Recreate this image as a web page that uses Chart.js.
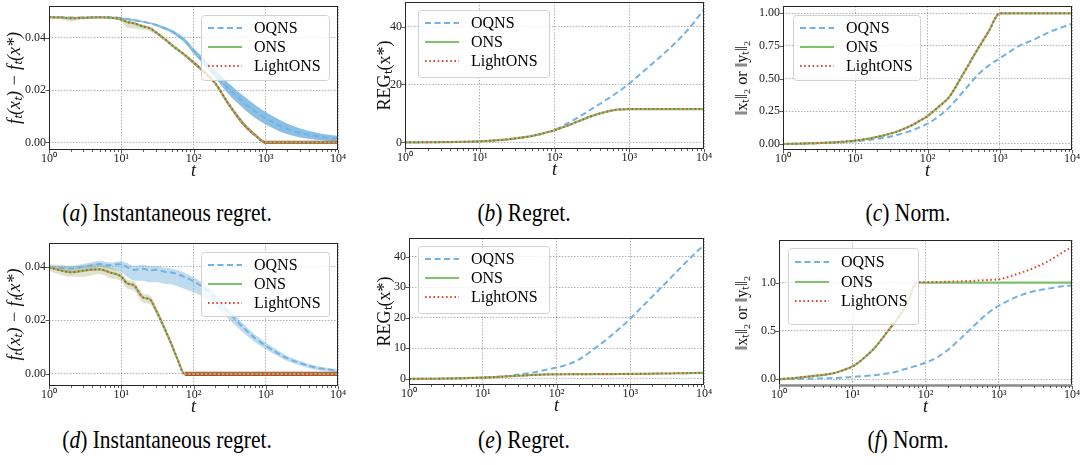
<!DOCTYPE html>
<html>
<head>
<meta charset="utf-8">
<script src="https://cdn.jsdelivr.net/npm/chart.js@4"></script>
<style>
body { margin: 0; background: #fff; width: 1082px; height: 465px; overflow: hidden; position: relative; font-family: "Liberation Serif", serif; }
canvas { position: absolute; }
.cap { position: absolute; width: 400px; font-size: 25px; line-height: 25px; text-align: center; color: #000; white-space: nowrap; transform: scaleX(0.86); }
</style>
</head>
<body>
<canvas id="pa"></canvas>
<canvas id="pb"></canvas>
<canvas id="pc"></canvas>
<canvas id="pd"></canvas>
<canvas id="pe"></canvas>
<canvas id="pf"></canvas>
<div class="cap" style="left:-33px;top:200px">(<i>a</i>) Instantaneous regret.</div>
<div class="cap" style="left:324px;top:200px">(<i>b</i>) Regret.</div>
<div class="cap" style="left:708px;top:200px">(<i>c</i>) Norm.</div>
<div class="cap" style="left:-33px;top:427px">(<i>d</i>) Instantaneous regret.</div>
<div class="cap" style="left:324px;top:427px">(<i>e</i>) Regret.</div>
<div class="cap" style="left:708px;top:427px">(<i>f</i>) Norm.</div>
<script>
// time steps (log axis)
const T = [1, 1.5, 2, 3, 4, 5, 7, 10, 12, 15, 20, 25, 30, 40, 50, 60, 75, 100, 150, 200, 300, 500, 700, 1000, 1500, 2000, 3000, 5000, 7000, 10000];
const X_MAJOR = [1, 10, 100, 1000, 10000];
const X_LABELS = ['10⁰', '10¹', '10²', '10³', '10⁴'];
const NAMES = ['OQNS', 'ONS', 'LightONS'];

// (a) instantaneous regret
const A_OQNS = [0.0478, 0.0478, 0.0477, 0.0477, 0.0478, 0.0478, 0.0478, 0.0475, 0.0471, 0.0467, 0.0461, 0.0455, 0.0449, 0.0436, 0.0424, 0.0410, 0.0390, 0.0350, 0.0300, 0.0262, 0.0208, 0.0152, 0.0120, 0.0092, 0.0066, 0.0051, 0.0036, 0.0024, 0.0018, 0.0015];
const A_OQNS_HI = [0.0480, 0.0480, 0.0479, 0.0479, 0.0480, 0.0480, 0.0480, 0.0478, 0.0474, 0.0470, 0.0464, 0.0458, 0.0453, 0.0441, 0.0430, 0.0417, 0.0398, 0.0360, 0.0313, 0.0278, 0.0229, 0.0176, 0.0145, 0.0116, 0.0088, 0.0071, 0.0053, 0.0038, 0.0030, 0.0025];
const A_OQNS_LO = [0.0476, 0.0476, 0.0475, 0.0475, 0.0476, 0.0476, 0.0476, 0.0472, 0.0468, 0.0464, 0.0458, 0.0452, 0.0445, 0.0431, 0.0418, 0.0403, 0.0382, 0.0340, 0.0287, 0.0246, 0.0187, 0.0128, 0.0095, 0.0068, 0.0044, 0.0031, 0.0019, 0.0010, 0.0006, 0.0005];
const A_ONS = [0.0478, 0.0477, 0.0474, 0.0476, 0.0477, 0.0478, 0.0476, 0.0470, 0.0460, 0.0455, 0.0443, 0.0436, 0.0421, 0.0395, 0.0372, 0.0355, 0.0335, 0.0305, 0.0262, 0.0226, 0.0150, 0.0068, 0.0030, 0.0000, 0, 0, 0, 0, 0, 0];
const A_LIGHT = [0.0478, 0.0477, 0.0474, 0.0476, 0.0477, 0.0478, 0.0476, 0.0470, 0.0460, 0.0455, 0.0443, 0.0436, 0.0421, 0.0395, 0.0372, 0.0355, 0.0335, 0.0305, 0.0262, 0.0226, 0.0150, 0.0068, 0.0030, 0.0000, 0, 0, 0, 0, 0, 0];
const A_RUN_HI = [0.0482, 0.0482, 0.0480, 0.0481, 0.0482, 0.0483, 0.0481, 0.0476, 0.0466, 0.0461, 0.0449, 0.0442, 0.0427, 0.0401, 0.0378, 0.0361, 0.0341, null, null, null, null, null, null, null, null, null, null, null, null, null];
const A_RUN_LO = [0.0474, 0.0470, 0.0462, 0.0470, 0.0471, 0.0472, 0.0470, 0.0462, 0.0440, 0.0435, 0.0430, 0.0425, 0.0412, 0.0386, 0.0364, 0.0347, 0.0327, null, null, null, null, null, null, null, null, null, null, null, null, null];
const A_RED_HI = [null, null, null, null, null, null, null, null, null, null, null, null, null, null, null, null, 0.0340, 0.0311, 0.0268, 0.0232, 0.0157, 0.0075, 0.0036, 0.0006, 0.0006, 0.0006, 0.0006, 0.0006, 0.0006, 0.0006];
const A_RED_LO = [null, null, null, null, null, null, null, null, null, null, null, null, null, null, null, null, 0.0330, 0.0299, 0.0256, 0.0220, 0.0143, 0.0061, 0.0024, -0.0006, -0.0006, -0.0006, -0.0006, -0.0006, -0.0006, -0.0006];

// (b) regret
const B_OQNS = [0, 0.02, 0.04, 0.08, 0.11, 0.14, 0.2, 0.35, 0.45, 0.6, 0.85, 1.1, 1.35, 1.8, 2.2, 2.65, 3.3, 4.3, 6.6, 8.4, 11.2, 14.8, 17.3, 20.3, 24.2, 27.0, 31.0, 36.5, 40.8, 46.0];
const B_ONS = [0, 0.02, 0.04, 0.08, 0.11, 0.14, 0.2, 0.35, 0.45, 0.6, 0.85, 1.1, 1.35, 1.8, 2.2, 2.65, 3.3, 4.2, 5.8, 7.1, 8.9, 10.6, 11.3, 11.5, 11.5, 11.5, 11.5, 11.5, 11.5, 11.5];
const B_LIGHT = [0, 0.02, 0.04, 0.08, 0.11, 0.14, 0.2, 0.35, 0.45, 0.6, 0.85, 1.1, 1.35, 1.8, 2.2, 2.65, 3.3, 4.2, 5.8, 7.1, 8.9, 10.6, 11.3, 11.5, 11.5, 11.5, 11.5, 11.5, 11.5, 11.5];

// (c) norm
const C_OQNS = [0, 0.002, 0.003, 0.006, 0.008, 0.01, 0.014, 0.02, 0.024, 0.03, 0.04, 0.048, 0.056, 0.072, 0.088, 0.102, 0.124, 0.155, 0.22, 0.28, 0.39, 0.53, 0.60, 0.655, 0.72, 0.76, 0.80, 0.86, 0.89, 0.92];
const C_ONS = [0, 0.002, 0.004, 0.007, 0.01, 0.012, 0.018, 0.026, 0.032, 0.04, 0.054, 0.066, 0.078, 0.1, 0.122, 0.142, 0.172, 0.214, 0.295, 0.36, 0.52, 0.73, 0.86, 1.0, 1.0, 1.0, 1.0, 1.0, 1.0, 1.0];
const C_LIGHT = [0, 0.002, 0.004, 0.007, 0.01, 0.012, 0.018, 0.026, 0.032, 0.04, 0.054, 0.066, 0.078, 0.1, 0.122, 0.142, 0.172, 0.214, 0.295, 0.36, 0.52, 0.73, 0.86, 1.0, 1.0, 1.0, 1.0, 1.0, 1.0, 1.0];

// (d) instantaneous regret
const D_OQNS = [0.0398, 0.0395, 0.0393, 0.0400, 0.0405, 0.0410, 0.0405, 0.0410, 0.0398, 0.0388, 0.0392, 0.0386, 0.0388, 0.0381, 0.0378, 0.0372, 0.0362, 0.0345, 0.0315, 0.0285, 0.0232, 0.0170, 0.0135, 0.0105, 0.0076, 0.0058, 0.0040, 0.0023, 0.0017, 0.0012];
const D_OQNS_HI = [0.0403, 0.0403, 0.0403, 0.0410, 0.0417, 0.0422, 0.0415, 0.0420, 0.0413, 0.0403, 0.0407, 0.0401, 0.0403, 0.0396, 0.0393, 0.0387, 0.0377, 0.0360, 0.0330, 0.0300, 0.0247, 0.0184, 0.0148, 0.0117, 0.0086, 0.0067, 0.0048, 0.0030, 0.0023, 0.0018];
const D_OQNS_LO = [0.0393, 0.0387, 0.0383, 0.0390, 0.0393, 0.0398, 0.0390, 0.0380, 0.0363, 0.0348, 0.0347, 0.0341, 0.0343, 0.0336, 0.0333, 0.0327, 0.0317, 0.0305, 0.0280, 0.0255, 0.0207, 0.0152, 0.0120, 0.0092, 0.0065, 0.0048, 0.0031, 0.0015, 0.0010, 0.0006];
const D_ONS = [0.0397, 0.0385, 0.0379, 0.0385, 0.0389, 0.0390, 0.0378, 0.0363, 0.0338, 0.0330, 0.0285, 0.0278, 0.0240, 0.0168, 0.0108, 0.0055, 0.0000, 0, 0, 0, 0, 0, 0, 0, 0, 0, 0, 0, 0, 0];
const D_LIGHT = [0.0397, 0.0385, 0.0379, 0.0385, 0.0389, 0.0390, 0.0378, 0.0363, 0.0338, 0.0330, 0.0285, 0.0278, 0.0240, 0.0168, 0.0108, 0.0055, 0.0000, 0, 0, 0, 0, 0, 0, 0, 0, 0, 0, 0, 0, 0];
const D_RUN_HI = [0.0410, 0.0405, 0.0400, 0.0405, 0.0410, 0.0412, 0.0398, 0.0378, 0.0352, 0.0345, 0.0300, 0.0292, 0.0253, 0.0180, 0.0118, 0.0063, 0.0006, null, null, null, null, null, null, null, null, null, null, null, null, null];
const D_RUN_LO = [0.0385, 0.0368, 0.0362, 0.0362, 0.0368, 0.0372, 0.0358, 0.0345, 0.0318, 0.0310, 0.0265, 0.0260, 0.0225, 0.0155, 0.0098, 0.0046, -0.0006, null, null, null, null, null, null, null, null, null, null, null, null, null];
const D_RED_HI = [null, null, null, null, null, null, null, null, null, null, null, null, null, null, null, null, 0.0008, 0.0008, 0.0008, 0.0008, 0.0008, 0.0008, 0.0008, 0.0008, 0.0008, 0.0008, 0.0008, 0.0008, 0.0008, 0.0008];
const D_RED_LO = [null, null, null, null, null, null, null, null, null, null, null, null, null, null, null, null, -0.0008, -0.0008, -0.0008, -0.0008, -0.0008, -0.0008, -0.0008, -0.0008, -0.0008, -0.0008, -0.0008, -0.0008, -0.0008, -0.0008];

// (e) regret
const E_OQNS = [0, 0.03, 0.05, 0.1, 0.15, 0.2, 0.3, 0.4, 0.5, 0.65, 0.9, 1.15, 1.4, 1.8, 2.2, 2.55, 3.1, 3.7, 4.9, 6.3, 9.2, 13.3, 16.3, 19.7, 24.0, 27.0, 31.3, 36.8, 40.3, 43.8];
const E_ONS = [0, 0.03, 0.05, 0.1, 0.15, 0.2, 0.3, 0.4, 0.48, 0.6, 0.78, 0.92, 1.02, 1.18, 1.3, 1.38, 1.45, 1.5, 1.52, 1.54, 1.56, 1.58, 1.6, 1.62, 1.66, 1.7, 1.76, 1.85, 1.92, 2.0];
const E_LIGHT = [0, 0.03, 0.05, 0.1, 0.15, 0.2, 0.3, 0.4, 0.48, 0.6, 0.78, 0.92, 1.02, 1.18, 1.3, 1.38, 1.45, 1.5, 1.52, 1.54, 1.56, 1.58, 1.6, 1.62, 1.66, 1.7, 1.76, 1.85, 1.92, 2.0];

// (f) norm
const F_OQNS = [0, 0.002, 0.004, 0.007, 0.009, 0.011, 0.016, 0.024, 0.028, 0.033, 0.042, 0.05, 0.06, 0.078, 0.1, 0.118, 0.14, 0.17, 0.235, 0.30, 0.42, 0.58, 0.68, 0.76, 0.83, 0.87, 0.91, 0.94, 0.96, 0.97];
const F_ONS = [0, 0.01, 0.02, 0.034, 0.045, 0.055, 0.085, 0.131, 0.17, 0.23, 0.32, 0.41, 0.49, 0.61, 0.72, 0.84, 1.0, 1.0, 1.0, 1.0, 1.0, 1.0, 1.0, 1.0, 1.0, 1.0, 1.0, 1.0, 1.0, 1.0];
const F_LIGHT = [0, 0.01, 0.02, 0.034, 0.045, 0.055, 0.085, 0.131, 0.17, 0.23, 0.32, 0.41, 0.49, 0.61, 0.72, 0.84, 1.0, 1.003, 1.006, 1.008, 1.012, 1.02, 1.027, 1.034, 1.07, 1.10, 1.15, 1.23, 1.30, 1.37];

const Y_TICKS_A = [0, 0.02, 0.04];
const Y_TICKS_B = [0, 20, 40];
const Y_TICKS_C = [0, 0.25, 0.5, 0.75, 1];
const Y_TICKS_D = [0, 0.02, 0.04];
const Y_TICKS_E = [0, 10, 20, 30, 40];
const Y_TICKS_F = [0, 0.5, 1];

const BLUE = '#72b3df';
const GREEN = '#7cc36c';
const RED = '#e0482f';
const FONT = 'Liberation Serif';

// minor ticks of the log axis
const xTickValues = [];
for (const d of [1, 10, 100, 1000]) {
  for (let m = 1; m < 10; m++) xTickValues.push(m * d);
}
xTickValues.push(10000);

function oqns(data) {
  return { data, legendRow: 0, borderColor: BLUE, borderWidth: 2, borderDash: [6, 3.5], order: 3 };
}
function ons(data) {
  return { data, legendRow: 1, borderColor: GREEN, borderWidth: 2.2, order: 2 };
}
function light(data) {
  return { data, legendRow: 2, borderColor: RED, borderWidth: 2, borderDash: [1.6, 2.6], order: 1 };
}
function band(hi, lo, color, order) {
  return [
    { data: hi, borderWidth: 0, borderColor: 'rgba(0,0,0,0)', backgroundColor: color, fill: '+1', order },
    { data: lo, borderWidth: 0, borderColor: 'rgba(0,0,0,0)', fill: false, order }
  ];
}

const framePlugin = {
  id: 'frame',
  afterDatasetsDraw(chart, args, opts) {
    const { ctx, chartArea: a } = chart;
    ctx.save();
    ctx.strokeStyle = '#262626';
    ctx.lineWidth = 1;
    ctx.strokeRect(a.left + 0.5, a.top + 0.5, a.right - a.left - 1, a.bottom - a.top - 1);
    if (opts.bottom) {
      ctx.strokeStyle = opts.bottom;
      ctx.lineWidth = 2.5;
      ctx.beginPath();
      ctx.moveTo(a.left, a.bottom - 0.5);
      ctx.lineTo(a.right, a.bottom - 0.5);
      ctx.stroke();
    }
    ctx.strokeStyle = '#333';
    ctx.lineWidth = 0.8;
    ctx.beginPath();
    chart.scales.x.ticks.forEach(t => {
      const px = Math.round(chart.scales.x.getPixelForValue(t.value)) + 0.5;
      const len = X_MAJOR.includes(t.value) ? 3.5 : 2;
      ctx.moveTo(px, a.bottom);
      ctx.lineTo(px, a.bottom + len);
    });
    chart.scales.y.ticks.forEach(t => {
      const py = Math.round(chart.scales.y.getPixelForValue(t.value)) + 0.5;
      ctx.moveTo(a.left - 3.5, py);
      ctx.lineTo(a.left, py);
    });
    ctx.stroke();
    ctx.restore();
  }
};

const legendPlugin = {
  id: 'inLegend',
  afterDraw(chart, args, opts) {
    const { ctx, chartArea: a } = chart;
    const x0 = a.left + opts.x, y0 = a.top + opts.y;
    ctx.save();
    ctx.beginPath();
    ctx.roundRect(x0 + 0.5, y0 + 0.5, opts.w, opts.h, 3);
    ctx.fillStyle = 'rgba(255,255,255,0.8)';
    ctx.fill();
    ctx.strokeStyle = '#d2d2d2';
    ctx.lineWidth = 1;
    ctx.stroke();
    chart.data.datasets.filter(d => d.legendRow !== undefined).forEach(d => {
      const y = y0 + opts.rows[d.legendRow];
      ctx.strokeStyle = d.borderColor;
      ctx.lineWidth = d.borderWidth;
      ctx.setLineDash(d.borderDash || []);
      ctx.beginPath();
      ctx.moveTo(x0 + 7, y);
      ctx.lineTo(x0 + 41, y);
      ctx.stroke();
      ctx.setLineDash([]);
      ctx.fillStyle = '#000';
      ctx.font = '16px "' + FONT + '"';
      ctx.textBaseline = 'middle';
      ctx.fillText(NAMES[d.legendRow], x0 + 53, y + 1);
    });
    ctx.restore();
  }
};

function makePanel(p) {
  const canvas = document.getElementById(p.id);
  const left = p.col, top = p.row;
  const [pl, pt, pr, pb] = p.plot;
  canvas.width = pr + 8 - left;
  canvas.height = pb + 32 - top;
  canvas.style.left = left + 'px';
  canvas.style.top = top + 'px';
  const yW = pl - left;

  new Chart(canvas, {
    type: 'line',
    data: { labels: T, datasets: p.datasets },
    options: {
      responsive: false,
      animation: false,
      devicePixelRatio: 1,
      layout: { padding: { left: 0, top: pt - top, right: 8, bottom: 0 } },
      elements: { point: { radius: 0 }, line: { cubicInterpolationMode: 'monotone' } },
      plugins: {
        legend: { display: false },
        tooltip: { enabled: false },
        frame: { bottom: p.bottomSpine },
        inLegend: p.legend
      },
      scales: {
        x: {
          type: 'logarithmic', min: 1, max: 10000,
          afterBuildTicks: s => { s.ticks = xTickValues.map(v => ({ value: v })); },
          afterFit: s => { s.height = 32; s.paddingLeft = 0; s.paddingRight = 0; },
          ticks: {
            autoSkip: false, maxRotation: 0, minRotation: 0, padding: 2, color: '#222',
            font: { family: FONT, size: 12 },
            callback: v => { const k = X_MAJOR.indexOf(v); return k < 0 ? '' : X_LABELS[k]; }
          },
          grid: {
            drawTicks: false, lineWidth: 0.8,
            color: c => (c.tick && X_MAJOR.includes(c.tick.value)) ? '#a0a0a0' : 'rgba(0,0,0,0)'
          },
          border: { display: false, dash: [1.5, 1.5] },
          title: { display: true, text: 't', color: '#111', font: { family: FONT, size: 18, style: 'italic' }, padding: { top: 0, bottom: 0 } }
        },
        y: {
          min: p.yMin, max: p.yMax,
          afterBuildTicks: s => { s.ticks = p.yTicks.map(v => ({ value: v })); },
          afterFit: s => { s.width = yW; s.paddingTop = 0; s.paddingBottom = 0; },
          ticks: { padding: 3, color: '#222', font: { family: FONT, size: 12 }, callback: v => v.toFixed(p.dec) },
          grid: { drawTicks: false, lineWidth: 0.8, color: '#a0a0a0' },
          border: { display: false, dash: [1.5, 1.5] },
          title: { display: true, text: p.yTitle, color: '#111', font: { family: FONT, size: p.titleSize, style: p.italic ? 'italic' : 'normal' }, padding: { top: p.titlePad, bottom: 0 } }
        }
      }
    },
    plugins: [framePlugin, legendPlugin]
  });
}

const ROWS = [13, 32, 51];

makePanel({
  id: 'pa', col: 0, row: 0, plot: [49, 6, 338, 150],
  yMin: -0.0029, yMax: 0.0521, yTicks: Y_TICKS_A, dec: 2,
  yTitle: 'fₜ(xₜ) − fₜ(x*)', italic: true, titleSize: 18, titlePad: 4,
  legend: { x: 152, y: 9, w: 128, h: 65, rows: ROWS },
  datasets: [light(A_LIGHT), ons(A_ONS), oqns(A_OQNS),
    ...band(A_RED_HI, A_RED_LO, 'rgba(200,55,30,0.95)', 5),
    ...band(A_RUN_HI, A_RUN_LO, 'rgba(150,160,90,0.3)', 6),
    ...band(A_OQNS_HI, A_OQNS_LO, 'rgba(110,175,222,0.8)', 7)]
});

makePanel({
  id: 'pb', col: 360, row: 0, plot: [405, 2, 704, 149],
  yMin: -2.3, yMax: 48.5, yTicks: Y_TICKS_B, dec: 0,
  yTitle: 'REGₜ(x*)', italic: false, titleSize: 18, titlePad: 14,
  legend: { x: 13, y: 8, w: 131, h: 67, rows: ROWS },
  datasets: [light(B_LIGHT), ons(B_ONS), oqns(B_OQNS)]
});

makePanel({
  id: 'pc', col: 720, row: 0, plot: [783, 6, 1072, 150],
  yMin: -0.046, yMax: 1.056, yTicks: Y_TICKS_C, dec: 2,
  yTitle: '‖xₜ‖₂ or ‖yₜ‖₂', italic: false, titleSize: 16, titlePad: 13,
  legend: { x: 10, y: 9, w: 127, h: 65, rows: ROWS },
  datasets: [light(C_LIGHT), ons(C_ONS), oqns(C_OQNS)]
});

makePanel({
  id: 'pd', col: 0, row: 230, plot: [49, 243, 338, 386],
  yMin: -0.0045, yMax: 0.0488, yTicks: Y_TICKS_D, dec: 2,
  yTitle: 'fₜ(xₜ) − fₜ(x*)', italic: true, titleSize: 18, titlePad: 4,
  legend: { x: 152, y: 9, w: 128, h: 64, rows: ROWS },
  datasets: [light(D_LIGHT), ons(D_ONS), oqns(D_OQNS),
    ...band(D_RED_HI, D_RED_LO, 'rgba(200,55,30,0.95)', 5),
    ...band(D_RUN_HI, D_RUN_LO, 'rgba(150,160,90,0.3)', 6),
    ...band(D_OQNS_HI, D_OQNS_LO, 'rgba(110,175,222,0.45)', 7)]
});

makePanel({
  id: 'pe', col: 360, row: 230, plot: [409, 238, 704, 385],
  yMin: -2.0, yMax: 46.1, yTicks: Y_TICKS_E, dec: 0,
  yTitle: 'REGₜ(x*)', italic: false, titleSize: 18, titlePad: 14,
  legend: { x: 9, y: 8, w: 131, h: 67, rows: ROWS },
  datasets: [light(E_LIGHT), ons(E_ONS), oqns(E_OQNS)]
});

makePanel({
  id: 'pf', col: 720, row: 230, plot: [779, 240, 1072, 386],
  yMin: -0.07, yMax: 1.44, yTicks: Y_TICKS_F, dec: 1,
  yTitle: '‖xₜ‖₂ or ‖yₜ‖₂', italic: false, titleSize: 16, titlePad: 13,
  legend: { x: 9, y: 8, w: 130, h: 76, rows: [14, 34, 53] },
  bottomSpine: '#8a8a8a',
  datasets: [light(F_LIGHT), ons(F_ONS), oqns(F_OQNS)]
});
</script>
</body>
</html>
